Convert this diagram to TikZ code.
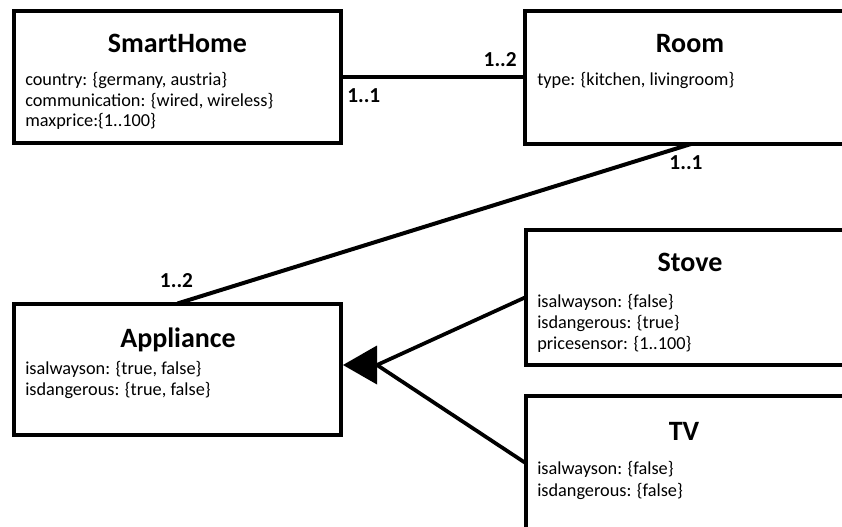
\documentclass[tikz,border=0pt]{standalone}
\usepackage{fontspec}
\setmainfont{Carlito}
\usetikzlibrary{fit,calc}
\begin{document}
\begin{tikzpicture}[x=0.75pt,y=-0.75pt,
  box/.style={draw, line width=3pt, inner sep=0pt, outer sep=0pt},
  title/.style={font=\fontsize{21}{25}\selectfont\bfseries, anchor=base, inner sep=0pt},
  attr/.style={font=\fontsize{13.7}{16}\selectfont, anchor=base west, inner sep=0pt},
  mult/.style={font=\fontsize{16}{19}\selectfont\bfseries, inner sep=0pt},
  link/.style={line width=3pt},
  genline/.style={line width=2.8pt}]
\useasboundingbox (0,0) rectangle (842,527);
\clip (0,0) rectangle (842,527);

% class boxes
\node[box, fit={(14,11.5) (341,143.5)}] (smarthome) {};
\node[box, fit={(525,11) (857,144)}] (room) {};
\node[box, fit={(14,303.5) (341,434.5)}] (appliance) {};
\node[box, fit={(525.5,230) (857,364.5)}] (stove) {};
\node[box, fit={(525.5,396) (857,530)}] (tv) {};

% SmartHome
\node[title] (smarthomeT) at (177.5,53) {SmartHome};
\node[attr] (sh1) at (25,86) {country: \{germany, austria\}};
\node[attr] (sh2) at (25,107) {communication: \{wired, wireless\}};
\node[attr] (sh3) at (25,127) {maxprice:\{1..100\}};

% Room
\node[title] (roomT) at (690,53) {Room};
\node[attr] (r1) at (537,86) {type: \{kitchen, livingroom\}};

% Appliance
\node[title] (applianceT) at (178,347) {Appliance};
\node[attr] (a1) at (25,374) {isalwayson: \{true, false\}};
\node[attr] (a2) at (25,395) {isdangerous: \{true, false\}};

% Stove
\node[title] (stoveT) at (690,272) {Stove};
\node[attr] (s1) at (537,307) {isalwayson: \{false\}};
\node[attr] (s2) at (537,328) {isdangerous: \{true\}};
\node[attr] (s3) at (537,349) {pricesensor: \{1..100\}};

% TV
\node[title] (tvT) at (684,440) {TV};
\node[attr] (t1) at (537,474) {isalwayson: \{false\}};
\node[attr] (t2) at (537,496) {isdangerous: \{false\}};

% associations
\draw[link] (smarthome.east) -- (room.west);
\draw[link] (room.south) -- (appliance.north);
\node[mult, anchor=base west] (m1) at (347,103) {1..1};
\node[mult, anchor=base east] (m2) at (517,67) {1..2};
\node[mult, anchor=base] (m3) at (686,170) {1..1};
\node[mult, anchor=base] (m4) at (176.5,287) {1..2};

% generalisation
\coordinate (tip) at ($(appliance.east)+(2,-4)$);
\coordinate (gen) at ($(tip)+(34,0)$);
\fill (tip) -- ($(tip)+(34,-19.5)$) -- ($(tip)+(34,19.5)$) -- cycle;
\draw[genline] (stove.west) -- (gen);
\draw[genline] (tv.west) -- (gen);
\end{tikzpicture}
\end{document}
